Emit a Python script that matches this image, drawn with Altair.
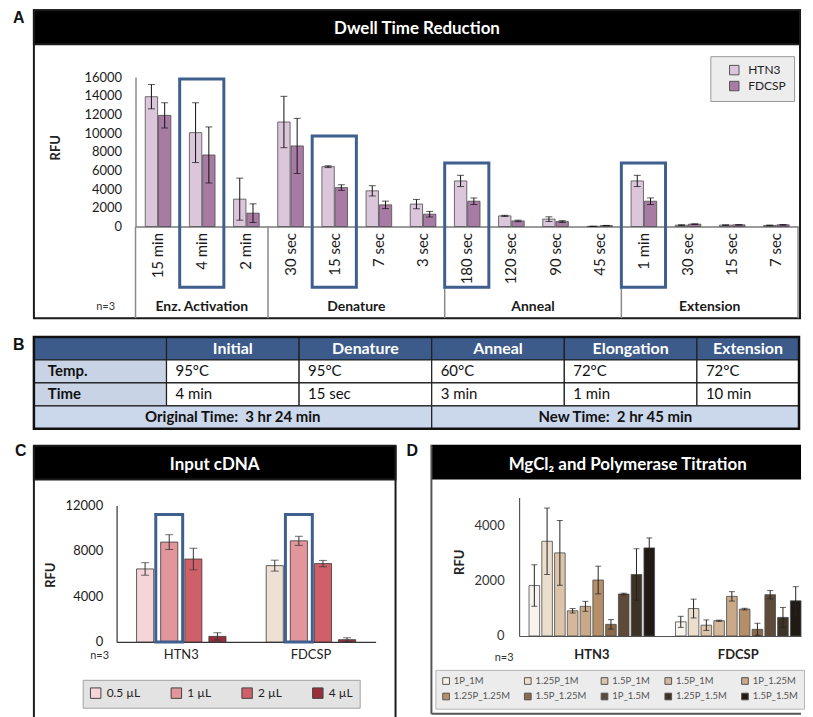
import altair as alt
import pandas as pd

FONT = "Lato"
LFONT = "Liberation Sans"
BOX_BLUE = "#3f5f8e"

# ---------------- Panel A: Dwell Time Reduction ----------------
a_labels = ["15 min", "4 min", "2 min", "30 sec", "15 sec", "7 sec", "3 sec",
            "180 sec", "120 sec", "90 sec", "45 sec", "1 min", "30 sec", "15 sec", "7 sec"]
a_groups = (["Enz. Activation"] * 3 + ["Denature"] * 4 + ["Anneal"] * 4 + ["Extension"] * 4)
a_series = ["HTN3", "FDCSP"]
a_colors = ["#dcc6dc", "#a87ba5"]
a_htn3 = [13900, 10050, 2930, 11190, 6410, 3820, 2400, 4880, 1140, 790, 20, 4880, 150, 150, 120]
a_htn3_err = [1300, 3200, 2250, 2750, 100, 550, 500, 600, 60, 250, 10, 600, 30, 30, 30]
a_fdcsp = [11900, 7660, 1430, 8630, 4170, 2320, 1320, 2710, 600, 530, 100, 2710, 250, 180, 180]
a_fdcsp_err = [1350, 3000, 1000, 2950, 300, 400, 300, 350, 80, 100, 20, 350, 40, 30, 30]
a_highlight_idx = [1, 4, 7, 11]
a_highlight_top = [15800, 9700, 6800, 6800]

# ---------------- Panel B: table ----------------
b_header = ["", "Initial", "Denature", "Anneal", "Elongation", "Extension"]
b_temp = ["Temp.", "95°C", "95°C", "60°C", "72°C", "72°C"]
b_time = ["Time", "4 min", "15 sec", "3 min", "1 min", "10 min"]
b_summary = ["Original Time:\u00a0\u00a03 hr 24 min", "New Time:\u00a0\u00a02 hr 45 min"]
b_summary_span = [3, 3]
b_kinds = ["head", "rowhead", "cell", "sum"]
b_kind_colors = ["#3c5b8b", "#c8d4e6", "#ffffff", "#cbd7ea"]

# ---------------- Panel C: Input cDNA ----------------
c_genes = ["HTN3", "FDCSP"]
c_volumes = ["0.5 µL", "1 µL", "2 µL", "4 µL"]
c_colors = ["#f6d5d8", "#e2959b", "#cf6069", "#9a2f3c"]
c_fdcsp_first_color = "#ede1d6"
c_htn3 = [6420, 8780, 7290, 490]
c_htn3_err = [550, 650, 950, 320]
c_fdcsp = [6710, 8890, 6890, 200]
c_fdcsp_err = [480, 400, 280, 170]
c_highlight_volume = "1 µL"
c_highlight_top = 11200

# ---------------- Panel D: MgCl2 and Polymerase Titration ----------------
d_genes = ["HTN3", "FDCSP"]
d_conditions = ["1P_1M", "1.25P_1M", "1.5P_1M", "1.5P_1M", "1P_1.25M",
                "1.25P_1.25M", "1.5P_1.25M", "1P_1.5M", "1.25P_1.5M", "1.5P_1.5M"]
d_colors = ["#f8f3ed", "#ebdecd", "#dbc4aa", "#d4b89b", "#c9a987",
            "#b58f6a", "#8a6a4b", "#5e4a38", "#3d3226", "#211a14"]
d_htn3 = [1820, 3420, 3000, 910, 1070, 2020, 420, 1515, 2220, 3180]
d_htn3_err = [750, 1200, 1170, 80, 180, 500, 170, 30, 930, 360]
d_fdcsp = [510, 990, 390, 550, 1430, 970, 240, 1490, 670, 1270]
d_fdcsp_err = [200, 340, 190, 20, 170, 30, 220, 150, 360, 510]


# ---------------- helpers for decoration ----------------
def _dummy():
    return pd.DataFrame({"k": [0]})


def txt(text, x, y, size, color="#111111", weight="normal", angle=0, font=FONT, align="center"):
    return alt.Chart(pd.DataFrame({"t": [text]})).mark_text(
        font=font, fontSize=size, fontWeight=weight, color=color, angle=angle,
        align=align, baseline="middle"
    ).encode(x=alt.value(x), y=alt.value(y), text="t:N")


def rect(x, x2, y, y2, **kw):
    return alt.Chart(_dummy()).mark_rect(**kw).encode(
        x=alt.value(x), x2=alt.value(x2), y=alt.value(y), y2=alt.value(y2))


def vline(x, y, y2, color="#1a1a1a", width=2):
    return alt.Chart(_dummy()).mark_rule(color=color, strokeWidth=width).encode(
        x=alt.value(x), y=alt.value(y), y2=alt.value(y2))


def hline(y, x, x2, color="#1a1a1a", width=2):
    return alt.Chart(_dummy()).mark_rule(color=color, strokeWidth=width).encode(
        y=alt.value(y), x=alt.value(x), x2=alt.value(x2))


# Each panel's group origin is its top-left corner; the plot rectangles inside
# are set through explicit scale ranges, and axes are moved with offsets.

# ======================= PANEL A =======================
OXA, OYA = 13, 8
A_W, A_H = 791, 311
A_X0, A_X1, A_Y0, A_Y1 = 136 - OXA, 801 - OXA, 226 - OYA, 76 - OYA
rowsA = []
for i in range(len(a_labels)):
    rowsA.append({"idx": i, "series": "HTN3", "value": a_htn3[i], "err": a_htn3_err[i]})
    rowsA.append({"idx": i, "series": "FDCSP", "value": a_fdcsp[i], "err": a_fdcsp_err[i]})
dfA = pd.DataFrame(rowsA)

sxA = alt.Scale(domain=[0, len(a_labels)], range=[A_X0, A_X1], nice=False, zero=False)
syA = alt.Scale(domain=[0, 16000], range=[A_Y0, A_Y1], nice=False)
label_expr_A = "[" + ",".join("'" + s + "'" for s in a_labels) + "][floor(datum.value)]"
axxA = alt.Axis(values=[i + 0.5 for i in range(len(a_labels))], labelExpr=label_expr_A,
                labelAngle=270, labelAlign="right", labelBaseline="middle",
                labelFont=FONT, labelFontSize=15, labelColor="#1a1a1a", labelPadding=6,
                labelFlush=False, labelOverlap=False, ticks=False, tickSize=0, grid=False,
                title=None, domainColor="#7a7a7a", domainWidth=1.5, offset=A_Y0 - A_H)
axyA = alt.Axis(values=list(range(0, 16001, 2000)), format="d", title=None, grid=False,
                ticks=False, tickSize=0, labelPadding=14, labelFont=FONT, labelFontSize=13,
                labelColor="#1a1a1a", domainColor="#8a8a8a", domainWidth=1.5, offset=-A_X0)
legA = alt.Legend(title=None, orient="none", legendX=713 - OXA, legendY=55 - OYA, direction="vertical",
                  fillColor="#ededed", strokeColor="#9a9a9a", padding=8, symbolType="square",
                  symbolSize=90, symbolStrokeColor="#555555", symbolStrokeWidth=1,
                  labelFont=FONT, labelFontSize=12, labelColor="#222222", rowPadding=2,
                  symbolOffset=10, labelOffset=8)


def XA(f):
    return alt.X(f, scale=sxA, axis=axxA)


def YA(f):
    return alt.Y(f, scale=syA, axis=axyA)


baseA = alt.Chart(dfA).transform_calculate(
    x0="datum.idx + (datum.series === 'HTN3' ? 0.22 : 0.52)", base="0"
).transform_calculate(
    x1="datum.x0 + 0.28", xc="datum.x0 + 0.14",
    lo="datum.value - datum.err", hi="datum.value + datum.err"
)
barsA = baseA.mark_rect(stroke="#4d4d4d", strokeWidth=0.8).encode(
    x=XA("x0:Q"), x2="x1:Q", y=YA("value:Q"), y2="base:Q",
    fill=alt.Fill("series:N", scale=alt.Scale(domain=a_series, range=a_colors), legend=legA))
errA = baseA.mark_rule(color="#111111", strokeWidth=1).encode(
    x=XA("xc:Q"), y=YA("lo:Q"), y2="hi:Q")
capHiA = baseA.mark_tick(orient="horizontal", size=7, thickness=1, color="#111111").encode(
    x=XA("xc:Q"), y=YA("hi:Q"))
capLoA = baseA.mark_tick(orient="horizontal", size=7, thickness=1, color="#111111").encode(
    x=XA("xc:Q"), y=YA("lo:Q"))

hlA = alt.Chart(pd.DataFrame({"idx": a_highlight_idx, "top": a_highlight_top})).transform_calculate(
    idx2="datum.idx + 1").mark_rect(fillOpacity=0, stroke=BOX_BLUE, strokeWidth=3).encode(
    x=XA("idx:Q"), x2="idx2:Q", y=YA("top:Q"), y2=alt.value(287 - OYA))

bounds = [i for i in range(len(a_groups)) if i == 0 or a_groups[i] != a_groups[i - 1]] + [len(a_groups)]
sepA = alt.Chart(pd.DataFrame({"b": bounds})).mark_rule(color="#8a8a8a", strokeWidth=1.5).encode(
    x=XA("b:Q"), y=alt.value(A_Y0), y2=alt.value(318 - OYA))
groupA = alt.Chart(pd.DataFrame({"idx": list(range(len(a_groups))), "group": a_groups})).transform_aggregate(
    c="mean(idx)", groupby=["group"]).transform_calculate(cx="datum.c + 0.5").mark_text(
    font=FONT, fontSize=14, fontWeight="bold", color="#1a1a1a", baseline="middle").encode(
    x=XA("cx:Q"), y=alt.value(307 - OYA), text="group:N")

A_FL, A_FR, A_FT, A_FB = 34 - OXA, 803 - OXA, 9 - OYA, 318 - OYA
panelA = alt.layer(
    rect(A_FL, A_FR, A_FT, A_FB, fillOpacity=0, stroke="#1a1a1a", strokeWidth=2),
    rect(A_FL, A_FR, A_FT, 43 - OYA, fill="#000000", stroke="#1a1a1a", strokeWidth=2),
    txt("Dwell Time Reduction", (A_FL + A_FR) / 2, 28 - OYA, 17, "#ffffff", "bold"),
    txt("A", 0, 17 - OYA, 16, "#111111", "bold", font=LFONT, align="left"),
    txt("RFU", 56 - OXA, 147 - OYA, 13, "#222222", "bold", angle=270),
    txt("n=3", 106 - OXA, 307 - OYA, 11, "#333333"),
    sepA, groupA, barsA, errA, capHiA, capLoA, hlA
).properties(width=A_W, height=A_H)

# ======================= PANEL B =======================
OXB, OYB = 13, 335
B_W, B_H = 791, 94
B_L, B_R, B_T, B_B = 34 - OXB, 802 - OXB, 336 - OYB, 428 - OYB
cells = []
for j, t in enumerate(b_header):
    cells.append({"c0": j, "c1": j + 1, "r": 0, "text": t, "kind": "head"})
for r, row in [(1, b_temp), (2, b_time)]:
    for j, t in enumerate(row):
        cells.append({"c0": j, "c1": j + 1, "r": r, "text": t, "kind": "rowhead" if j == 0 else "cell"})
start = 0
for t, span in zip(b_summary, b_summary_span):
    cells.append({"c0": start, "c1": start + span, "r": 3, "text": t, "kind": "sum"})
    start += span
dfB = pd.DataFrame(cells)

B_XMAX = 5.77
sxB = alt.Scale(domain=[0, B_XMAX], range=[B_L, B_R], nice=False, zero=False, clamp=True)
syB = alt.Scale(domain=[0, 4], range=[B_T, B_B], nice=False, zero=False)
baseB = alt.Chart(dfB).transform_calculate(
    r1="datum.r + 1", rm="datum.r + 0.5",
    cm="(datum.c0 + min(datum.c1, %s)) / 2" % B_XMAX)
rectB = baseB.mark_rect(stroke="#1f1f1f", strokeWidth=1.2).encode(
    x=alt.X("c0:Q", scale=sxB, axis=None), x2="c1:Q",
    y=alt.Y("r:Q", scale=syB, axis=None), y2="r1:Q",
    fill=alt.Fill("kind:N", scale=alt.Scale(domain=b_kinds, range=b_kind_colors), legend=None))


def b_text(kind, xfield, color, weight, align, dx, size):
    return baseB.transform_filter(alt.datum.kind == kind).mark_text(
        font=FONT, fontSize=size, fontWeight=weight, color=color, align=align,
        baseline="middle", dx=dx).encode(
        x=alt.X(xfield, scale=sxB, axis=None), y=alt.Y("rm:Q", scale=syB, axis=None), text="text:N")


panelB = alt.layer(
    rectB,
    b_text("head", "cm:Q", "#ffffff", "bold", "center", 0, 16),
    b_text("rowhead", "c0:Q", "#111111", "bold", "left", 14, 15),
    b_text("cell", "c0:Q", "#111111", "normal", "left", 9, 15),
    b_text("sum", "cm:Q", "#111111", "bold", "center", 0, 15),
    rect(B_L, B_R, B_T, B_B, fillOpacity=0, stroke="#111111", strokeWidth=2.5),
    txt("B", 0, 344 - OYB, 16, "#111111", "bold", font=LFONT, align="left"),
).properties(width=B_W, height=B_H)

# ======================= PANEL C =======================
OXC, OYC = 13, 441
C_W, C_H = 385, 275
C_X0, C_X1, C_Y0, C_Y1 = 117 - OXC, 377 - OXC, 639 - OYC, 502 - OYC
rowsC = []
for g, vals, errs in [("HTN3", c_htn3, c_htn3_err), ("FDCSP", c_fdcsp, c_fdcsp_err)]:
    for v, val, e in zip(c_volumes, vals, errs):
        shade = v
        if g == "FDCSP" and v == c_volumes[0]:
            shade = v + " (FDCSP)"
        rowsC.append({"gene": g, "volume": v, "shade": shade, "value": val, "err": e})
dfC = pd.DataFrame(rowsC)

sxC = alt.Scale(domain=c_genes, range=[C_X0, C_X1], paddingInner=0.31, paddingOuter=0.154)
soC = alt.Scale(domain=c_volumes, paddingInner=0.29, paddingOuter=0)
syC = alt.Scale(domain=[0, 12000], range=[C_Y0, C_Y1], nice=False)
axxC = alt.Axis(title=None, labelAngle=0, ticks=False, tickSize=0, labelPadding=7, labelFont=FONT,
                labelFontSize=13, labelColor="#222222", domainColor="#333333", domainWidth=1.2,
                offset=C_Y0 - C_H)
axyC = alt.Axis(values=[0, 4000, 8000, 12000], format="d", title=None, grid=False, ticks=False,
                tickSize=0, labelPadding=14, labelFont=FONT, labelFontSize=13, labelColor="#1a1a1a",
                domainColor="#333333", domainWidth=1.2, offset=-C_X0)
legC = alt.Legend(title=None, orient="none", direction="horizontal", columns=4,
                  legendX=83 - OXC, legendY=677 - OYC,
                  values=c_volumes, fillColor="#e3e3e3", strokeColor="#a0a0a0", padding=7,
                  symbolType="square", symbolSize=110, symbolStrokeColor="#444444", symbolStrokeWidth=1,
                  labelFont=FONT, labelFontSize=12, labelColor="#222222", columnPadding=28, labelOffset=5)


def XC():
    return alt.X("gene:N", scale=sxC, axis=axxC)


def OC():
    return alt.XOffset("volume:N", scale=soC)


def YC(f):
    return alt.Y(f, scale=syC, axis=axyC)


baseC = alt.Chart(dfC).transform_calculate(lo="datum.value - datum.err", hi="datum.value + datum.err")
barsC = baseC.mark_bar(stroke="#3a3a3a", strokeWidth=0.8).encode(
    x=XC(), xOffset=OC(), y=YC("value:Q"),
    fill=alt.Fill("shade:N", scale=alt.Scale(domain=c_volumes + [c_volumes[0] + " (FDCSP)"],
                                             range=c_colors + [c_fdcsp_first_color]), legend=legC))
errC = baseC.mark_rule(color="#333333", strokeWidth=1).encode(
    x=XC(), xOffset=OC(), y=YC("lo:Q"), y2="hi:Q")
capC = [baseC.mark_tick(orient="horizontal", size=8, thickness=1, color="#333333").encode(
    x=XC(), xOffset=OC(), y=YC(f + ":Q")) for f in ["lo", "hi"]]
hlC = alt.Chart(pd.DataFrame({"gene": c_genes, "volume": [c_highlight_volume] * len(c_genes),
                              "top": [c_highlight_top] * len(c_genes)})).mark_bar(
    width=27, fillOpacity=0, stroke=BOX_BLUE, strokeWidth=3).encode(
    x=XC(), xOffset=OC(), y=YC("top:Q"), y2=alt.value(643 - OYC))

C_FL, C_FR, C_FT, C_FB = 34 - OXC, 397 - OXC, 442 - OYC, 715 - OYC
panelC = alt.layer(
    rect(C_FL, C_FR, C_FT, 476 - OYC, fill="#000000", stroke="#1a1a1a", strokeWidth=2),
    vline(C_FL, C_FT, C_FB), vline(C_FR, C_FT, C_FB),
    txt("Input cDNA", (C_FL + C_FR) / 2, 461 - OYC, 17, "#ffffff", "bold"),
    txt("C", 2, 447 - OYC, 16, "#111111", "bold", font=LFONT, align="left"),
    txt("RFU", 51 - OXC, 572 - OYC, 13, "#222222", "bold", angle=270),
    txt("n=3", 100 - OXC, 653 - OYC, 11, "#333333"),
    barsC, errC, capC[0], capC[1], hlC
).properties(width=C_W, height=C_H)

# ======================= PANEL D =======================
OXD, OYD = 408, 441
D_W, D_H = 396, 271
D_X0, D_X1, D_Y0, D_Y1 = 521 - OXD, 804 - OXD, 633 - OYD, 494 - OYD
d_keys = [str(i + 1) for i in range(len(d_conditions))]
rowsD = []
for g, vals, errs in [("HTN3", d_htn3, d_htn3_err), ("FDCSP", d_fdcsp, d_fdcsp_err)]:
    for k, val, e in zip(d_keys, vals, errs):
        rowsD.append({"gene": g, "key": k, "value": val, "err": e})
dfD = pd.DataFrame(rowsD)

sxD = alt.Scale(domain=d_genes, range=[D_X0, D_X1], paddingInner=0.143, paddingOuter=0.034, align=1)
soD = alt.Scale(domain=d_keys, paddingInner=0.17, paddingOuter=0)
syD = alt.Scale(domain=[0, 5000], range=[D_Y0, D_Y1], nice=False)
axxD = alt.Axis(title=None, labelAngle=0, ticks=False, tickSize=0, labelPadding=13, labelFont=FONT,
                labelFontSize=13, labelFontWeight="bold", labelColor="#222222",
                domainColor="#555555", domainWidth=1.2, offset=D_Y0 - D_H)
axyD = alt.Axis(values=[0, 2000, 4000], format="d", title=None, grid=False, ticks=False, tickSize=0,
                labelPadding=15, labelFont=FONT, labelFontSize=13, labelColor="#333333",
                domainColor="#555555", domainWidth=1.2, offset=-D_X0)
label_expr_D = "[" + ",".join("'" + s + "'" for s in d_conditions) + "][toNumber(datum.label) - 1]"
legD = alt.Legend(title=None, orient="none", direction="horizontal", columns=5,
                  legendX=437 - OXD, legendY=667 - OYD,
                  labelExpr=label_expr_D, fillColor="#ececec", strokeColor="#b5b5b5", padding=6,
                  symbolType="square", symbolSize=45, symbolStrokeColor="#555555", symbolStrokeWidth=1,
                  labelFont=FONT, labelFontSize=9.5, labelColor="#555555", columnPadding=12,
                  rowPadding=4, labelOffset=3)


def XD():
    return alt.X("gene:N", scale=sxD, axis=axxD)


def OD():
    return alt.XOffset("key:N", scale=soD)


def YD(f):
    return alt.Y(f, scale=syD, axis=axyD)


baseD = alt.Chart(dfD).transform_calculate(lo="datum.value - datum.err", hi="datum.value + datum.err")
barsD = baseD.mark_bar(stroke="#4a4a4a", strokeWidth=0.8).encode(
    x=XD(), xOffset=OD(), y=YD("value:Q"),
    fill=alt.Fill("key:N", scale=alt.Scale(domain=d_keys, range=d_colors), legend=legD))
errD = baseD.mark_rule(color="#222222", strokeWidth=1).encode(
    x=XD(), xOffset=OD(), y=YD("lo:Q"), y2="hi:Q")
capD = [baseD.mark_tick(orient="horizontal", size=6, thickness=1, color="#222222").encode(
    x=XD(), xOffset=OD(), y=YD(f + ":Q")) for f in ["lo", "hi"]]

D_FL, D_FR, D_FT, D_FB = 433 - OXD, 804 - OXD, 441 - OYD, 711 - OYD
panelD = alt.layer(
    rect(D_FL, D_FR, D_FT, 476 - OYD, fill="#000000", strokeWidth=0),
    vline(D_FL, D_FT, D_FB, color="#555555", width=2),
    hline(D_FB, D_FL, D_FR, color="#555555", width=2),
    txt("MgCl₂ and Polymerase Titration", 630 - OXD, 461 - OYD, 17, "#ffffff", "bold"),
    txt("D", 0, 447 - OYD, 16, "#111111", "bold", font=LFONT, align="left"),
    txt("RFU", 462 - OXD, 559 - OYD, 13, "#222222", "bold", angle=270),
    txt("n=3", 506 - OXD, 655 - OYD, 11, "#333333"),
    barsD, errD, capD[0], capD[1]
).properties(width=D_W, height=D_H)

# ======================= COMPOSE =======================
RES = dict(fill="independent", xOffset="independent")
top = alt.concat(panelA, panelB, columns=1, spacing=OYB - (OYA + A_H)).resolve_scale(
    **RES).resolve_legend(fill="independent")
bottom = alt.concat(panelC, panelD, columns=2, spacing=OXD - (OXC + C_W)).resolve_scale(
    **RES).resolve_legend(fill="independent")
chart = alt.concat(top, bottom, columns=1, spacing=OYC - (OYB + B_H)).resolve_scale(
    **RES).resolve_legend(fill="independent").properties(
    padding={"left": 5, "top": 0, "right": 0, "bottom": 0}, background="#ffffff"
).configure_view(strokeWidth=0)

chart.save("out.html", embed_options={"renderer": "svg", "actions": False})
